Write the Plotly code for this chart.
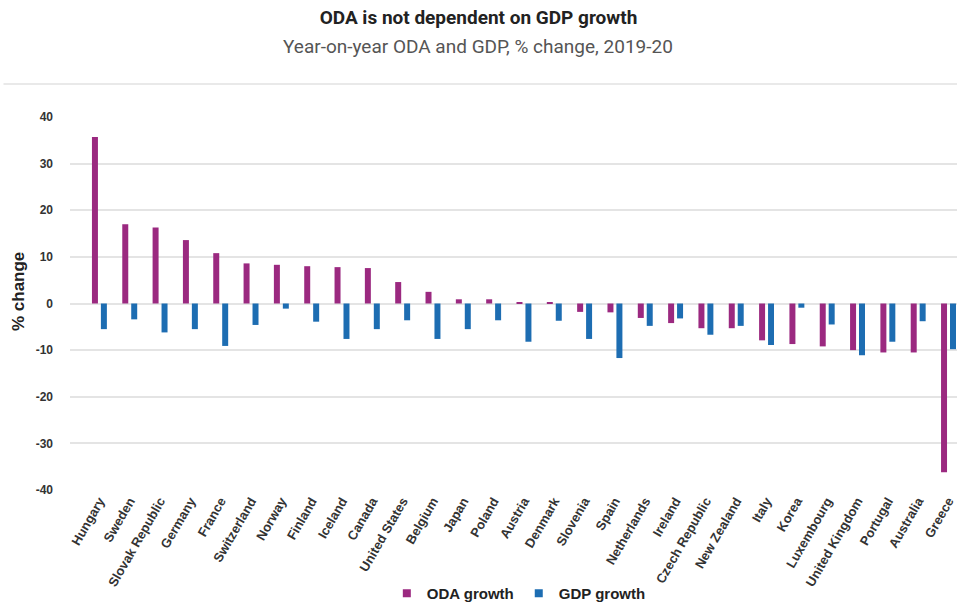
import plotly.graph_objects as go

# Year-on-year change 2019-20, in percent
countries = [
    "Hungary", "Sweden", "Slovak Republic", "Germany", "France", "Switzerland",
    "Norway", "Finland", "Iceland", "Canada", "United States", "Belgium",
    "Japan", "Poland", "Austria", "Denmark", "Slovenia", "Spain",
    "Netherlands", "Ireland", "Czech Republic", "New Zealand", "Italy",
    "Korea", "Luxembourg", "United Kingdom", "Portugal", "Australia", "Greece",
]
oda_growth = [
    35.7, 17.0, 16.3, 13.6, 10.8, 8.6,
    8.3, 8.0, 7.8, 7.6, 4.6, 2.5,
    0.9, 0.9, 0.3, 0.3, -1.8, -1.9,
    -3.1, -4.2, -5.3, -5.3, -7.9,
    -8.7, -9.2, -10.0, -10.5, -10.5, -36.2,
]
gdp_growth = [
    -5.5, -3.4, -6.2, -5.5, -9.1, -4.6,
    -1.1, -3.9, -7.6, -5.5, -3.6, -7.6,
    -5.5, -3.6, -8.2, -3.7, -7.6, -11.7,
    -4.8, -3.2, -6.7, -4.8, -8.9,
    -0.9, -4.5, -11.1, -8.2, -3.8, -9.8,
]
y_ticks = [40, 30, 20, 10, 0, -10, -20, -30, -40]

ODA_COLOR = "#9b2980"
GDP_COLOR = "#1d6db2"
FONT = "Liberation Sans, Arial, sans-serif"

fig = go.Figure()
fig.add_trace(go.Bar(x=countries, y=oda_growth, name="ODA growth", showlegend=False,
                     marker=dict(color=ODA_COLOR, line=dict(width=0))))
fig.add_trace(go.Bar(x=countries, y=gdp_growth, name="GDP growth", showlegend=False,
                     marker=dict(color=GDP_COLOR, line=dict(width=0))))

# legend entries drawn as small squares
for name, color in (("ODA growth", ODA_COLOR), ("GDP growth", GDP_COLOR)):
    fig.add_trace(go.Scatter(x=[None], y=[None], mode="markers", name=name,
                             marker=dict(symbol="square", size=8, color=color),
                             hoverinfo="skip"))

fig.update_layout(
    width=957, height=610,
    margin=dict(l=70, r=0, t=117, b=119),
    paper_bgcolor="white", plot_bgcolor="white",
    barmode="group", bargap=0.41, bargroupgap=0.33,
    font=dict(family=FONT, color="#333333"),
    title=dict(
        text="<b>ODA is not dependent on GDP growth</b>",
        x=0.5, xref="container", xanchor="center",
        y=1 - 17 / 610, yref="container", yanchor="middle",
        font=dict(family="Roboto, sans-serif", size=19, color="#222222"),
    ),
    showlegend=True,
    legend=dict(
        orientation="h", x=0.506, xanchor="center", y=-0.278, yanchor="middle",
        font=dict(family=FONT, size=15, color="#222222", weight="bold"),
        itemwidth=30, traceorder="normal", itemclick=False,
    ),
    xaxis=dict(
        range=[-0.97, 28.28], tickangle=-60, showgrid=False, showline=False,
        ticks="", tickfont=dict(family=FONT, size=13, color="#333333", weight="bold"),
        automargin=False,
    ),
    yaxis=dict(
        range=[-40, 40], tickvals=y_ticks, ticktext=[str(v) for v in y_ticks],
        showgrid=True, gridcolor="#e4e4e4", gridwidth=1.5,
        zeroline=True, zerolinecolor="#e4e4e4", zerolinewidth=1.5,
        ticks="", ticklabelstandoff=16,
        tickfont=dict(family=FONT, size=12, color="#333333", weight="bold"),
        automargin=False,
    ),
)

fig.add_annotation(
    text="Year-on-year ODA and GDP, % change, 2019-20",
    xref="paper", yref="paper", x=0.4605, y=(491 - 46) / 374,
    xanchor="center", yanchor="middle", showarrow=False,
    font=dict(family="Roboto, sans-serif", size=19, color="#555555"),
)

# y-axis caption
fig.add_annotation(
    text="<b>% change</b>", textangle=-90,
    xref="paper", yref="paper", x=(18.5 - 70) / 887, y=(491 - 292) / 374,
    xanchor="center", yanchor="middle", showarrow=False,
    font=dict(family=FONT, size=17, color="#222222"),
)

# thin rule under the heading block
fig.add_shape(type="line", xref="paper", yref="paper",
              x0=-0.075, x1=1.0, y0=(491 - 84) / 374, y1=(491 - 84) / 374,
              line=dict(color="#e2e2e2", width=1.5))

fig.write_html("out.html")
